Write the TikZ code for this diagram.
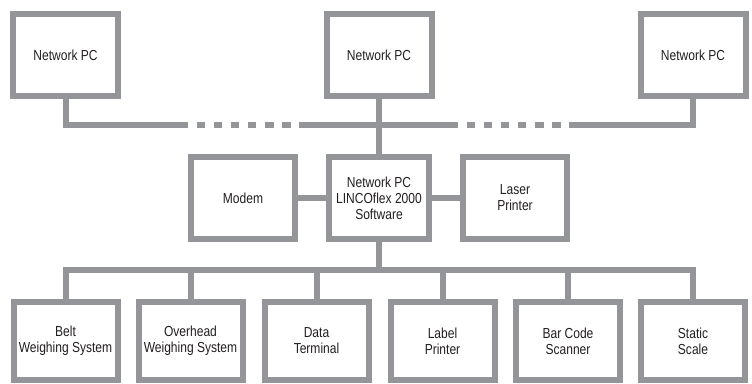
\documentclass[tikz,border=0pt]{standalone}
\usepackage{fontspec}
\setmainfont{Liberation Sans}[FakeStretch=0.83]
\usepackage{tikz}
\definecolor{linegray}{HTML}{939598}
\definecolor{textgray}{HTML}{231F20}
\tikzset{
  unit/.style={draw=linegray, line width=6pt, fill=white, text=textgray,
    align=center, inner sep=0pt, font=\fontsize{14.5}{16}\selectfont},
  toprow/.style={unit, minimum width=105pt, minimum height=82pt},
  midrow/.style={unit, minimum width=104pt, minimum height=82pt},
  lowrow/.style={unit, minimum width=104pt, minimum height=78pt},
  wire/.style={draw=linegray, line width=6pt},
  gapwire/.style={wire, dash pattern=on 8.55pt off 8.55pt, dash phase=8.55pt}
}
\begin{document}
\begin{tikzpicture}[x=1pt,y=-1pt]
        \useasboundingbox[fill=white] (0,0) rectangle (752,383);
        \def\topbus{124.5}
        \def\lowbus{270}

        % network PCs
        \node[toprow] (pcL) at (65.5,55) {Network PC};
        \node[toprow] (pcM) at (379,55) {Network PC};
        \node[toprow] (pcR) at (693,55) {Network PC};

        % central PC with modem and printer
        \node[midrow] (modem) at (243,198) {Modem};
        \node[midrow, minimum width=100pt] (hub) at (379,198) {Network PC\\LINCOflex 2000\\Software};
        \node[midrow] (laser) at (515,198) {Laser\\Printer};

        % devices
        \node[lowrow] (d1) at (65.5,341) {Belt\\Weighing System};
        \node[lowrow] (d2) at (190.5,341) {Overhead\\Weighing System};
        \node[lowrow] (d3) at (316.5,341) {Data\\Terminal};
        \node[lowrow] (d4) at (442.5,341) {Label\\Printer};
        \node[lowrow] (d5) at (568,341) {Bar Code\\Scanner};
        \node[lowrow] (d6) at (693,341) {Static\\Scale};

        % network bus
        \coordinate (gapA) at (188,\topbus);
        \coordinate (gapB) at (299,\topbus);
        \coordinate (gapC) at (458,\topbus);
        \coordinate (gapD) at (570,\topbus);
        \draw[wire] (pcL.south) |- (gapA);
        \draw[gapwire] (gapA)--(gapB);
        \draw[wire] (gapB)--(gapC);
        \draw[gapwire] (gapC)--(gapD);
        \draw[wire] (gapD) -| (pcR.south);
        \draw[wire] (pcM.south)--(hub.north);

        \draw[wire] (modem.east)--(hub.west);
        \draw[wire] (hub.east)--(laser.west);

        % device bus
        \coordinate (low) at (0,\lowbus);
        \draw[wire] (d1.north) |- (d6.north |- low) -- (d6.north);
        \foreach \i in {2,...,5}
          \draw[wire] (d\i.north)--(d\i.north |- low);
        \draw[wire] (hub.south)--(hub.south |- low);
      \end{tikzpicture}
\end{document}
